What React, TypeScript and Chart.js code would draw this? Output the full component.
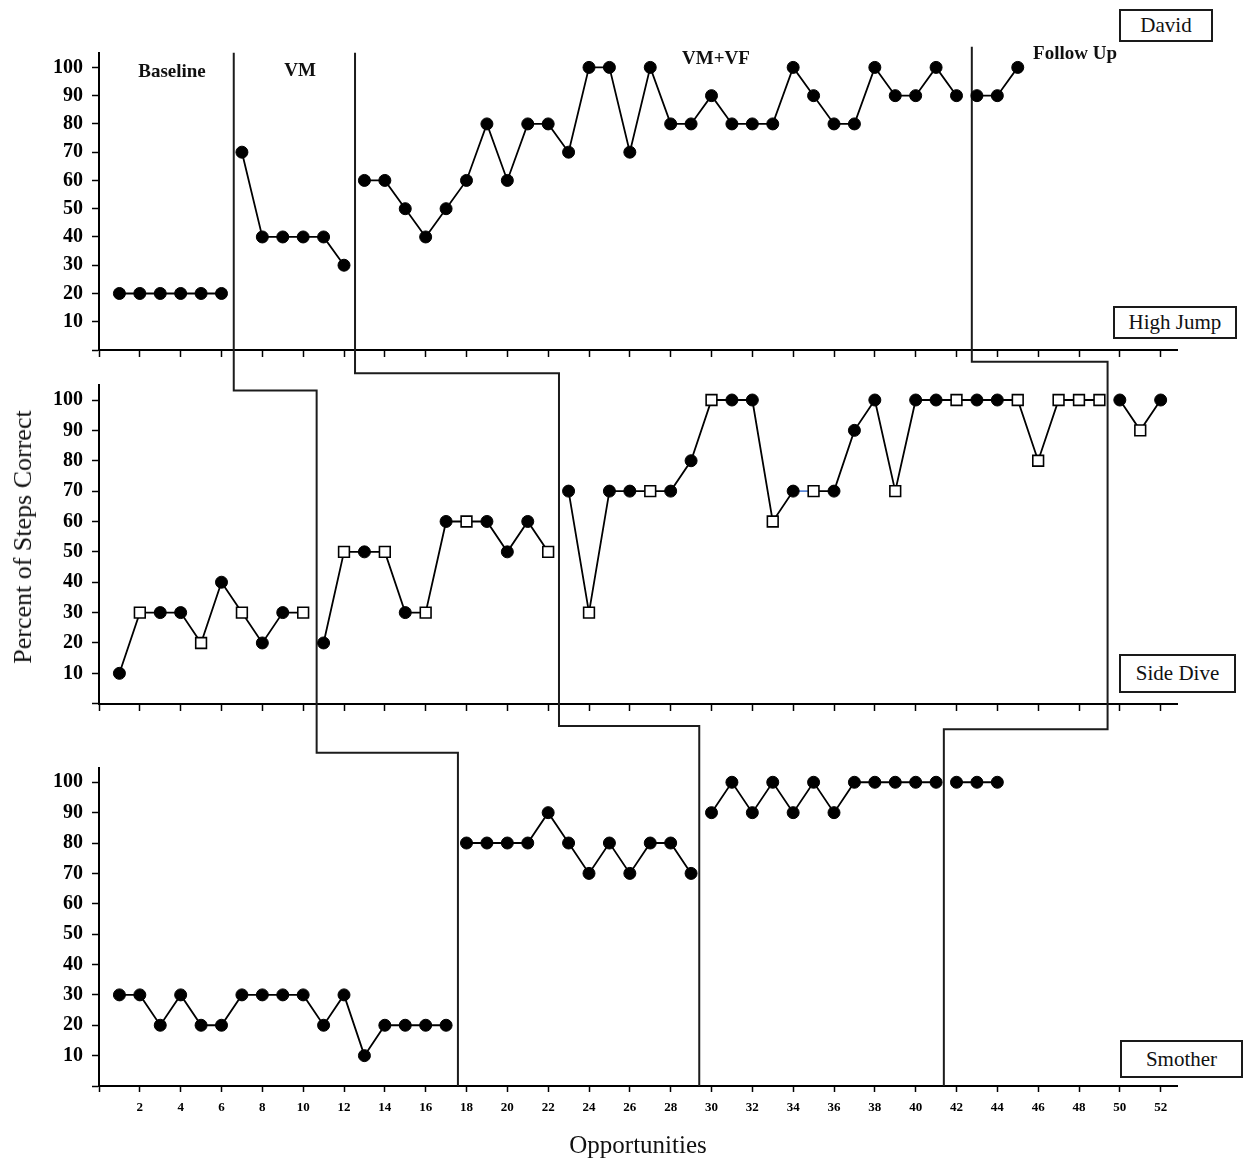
import React, { useEffect, useRef } from 'react';
import { Chart, registerables } from 'chart.js';

Chart.register(...registerables);

// ---------------- data ----------------
// David - High Jump (opportunities 1..45)
const highJump = [
  20, 20, 20, 20, 20, 20,
  70, 40, 40, 40, 40, 30,
  60, 60, 50, 40, 50, 60, 80, 60, 80, 80, 70, 100, 100, 70, 100, 80, 80, 90, 80, 80, 80, 100, 90, 80, 80, 100, 90, 90, 100, 90,
  90, 90, 100,
];
const highJumpPhaseEnds = [6, 12, 42];

// Side Dive (opportunities 1..52)
const sideDive = [
  10, 30, 30, 30, 20, 40, 30, 20, 30, 30,
  20, 50, 50, 50, 30, 30, 60, 60, 60, 50, 60, 50,
  70, 30, 70, 70, 70, 70, 80, 100, 100, 100, 60, 70, 70, 70, 90, 100, 70, 100, 100, 100, 100, 100, 100, 80, 100, 100, 100,
  100, 90, 100,
];
const sideDivePhaseEnds = [10, 22, 49];
const sideDiveOpenSquares = [2, 5, 7, 10, 12, 14, 16, 18, 22, 24, 27, 30, 33, 35, 39, 42, 45, 46, 47, 48, 49, 51];

// Smother (opportunities 1..44)
const smother = [
  30, 30, 20, 30, 20, 20, 30, 30, 30, 30, 20, 30, 10, 20, 20, 20, 20,
  80, 80, 80, 80, 90, 80, 70, 80, 70, 80, 80, 70,
  90, 100, 90, 100, 90, 100, 90, 100, 100, 100, 100, 100,
  100, 100, 100,
];
const smotherPhaseEnds = [17, 29, 41];

// phase-change lines (x in opportunities) for each panel
const phaseChangeTop = [6.6, 12.54, 42.75];
const phaseChangeMid = [10.66, 22.53, 49.4];
const phaseChangeBot = [17.58, 29.4, 41.38];
// vertical levels of the stepped connectors (in each panel's percent scale)
const phaseLineStartTop = [105.2, 105.2, 107.3];
const phaseStepMid = [103.1, 108.8, 112.6];
const phaseStepBot = [109.75, 118.5, 117.45];

const X_MAX = 52.8;

// ---------------- layout / style ----------------
const SERIF = "'Liberation Serif', 'Times New Roman', serif";

const phaseLabels = [
  { text: 'Baseline', x: 172, y: 70 },
  { text: 'VM', x: 300, y: 69 },
  { text: 'VM+VF', x: 716, y: 57 },
  { text: 'Follow Up', x: 1075, y: 52 },
];

const boxLabels = [
  { text: 'David', left: 1119, top: 9, w: 94, h: 33 },
  { text: 'High Jump', left: 1113, top: 306, w: 124, h: 33 },
  { text: 'Side Dive', left: 1119, top: 654, w: 117, h: 39 },
  { text: 'Smother', left: 1120, top: 1040, w: 123, h: 38 },
];

function toPoints(values: number[], phaseEnds: number[]) {
  const pts: { x: number; y: number | null }[] = [];
  values.forEach((v, i) => {
    const x = i + 1;
    pts.push({ x, y: v });
    if (phaseEnds.includes(x)) pts.push({ x: x + 0.5, y: null });
  });
  return pts;
}

const phaseLinePlugin = {
  id: 'phaseLines',
  beforeDatasetsDraw(chart: any) {
    const { ctx, scales } = chart;
    const x = scales.x;
    const yT = scales.yTop;
    const yM = scales.yMid;
    const yB = scales.yBot;
    ctx.save();
    ctx.strokeStyle = '#1c1c1c';
    ctx.lineWidth = 2;
    ctx.lineJoin = 'miter';
    ctx.lineCap = 'butt';
    phaseChangeTop.forEach((xt, i) => {
      const xm = phaseChangeMid[i];
      const xb = phaseChangeBot[i];
      ctx.beginPath();
      ctx.moveTo(x.getPixelForValue(xt), yT.getPixelForValue(phaseLineStartTop[i]));
      ctx.lineTo(x.getPixelForValue(xt), yM.getPixelForValue(phaseStepMid[i]));
      ctx.lineTo(x.getPixelForValue(xm), yM.getPixelForValue(phaseStepMid[i]));
      ctx.lineTo(x.getPixelForValue(xm), yB.getPixelForValue(phaseStepBot[i]));
      ctx.lineTo(x.getPixelForValue(xb), yB.getPixelForValue(phaseStepBot[i]));
      ctx.lineTo(x.getPixelForValue(xb), yB.getPixelForValue(0));
      ctx.stroke();
    });
    ctx.restore();
  },
};

function yScale(max: number, stackWeight: number, weight: number) {
  return {
    type: 'linear',
    axis: 'y',
    position: 'left',
    stack: 'panels',
    stackWeight,
    weight,
    min: 0,
    max,
    afterFit: (s: any) => {
      s.width = 99;
    },
    border: { display: true, color: '#000', width: 2 },
    grid: {
      display: true,
      drawOnChartArea: false,
      drawTicks: true,
      tickLength: 7,
      tickColor: '#000',
      tickWidth: 1.5,
      color: '#000',
    },
    ticks: {
      stepSize: 10,
      includeBounds: false,
      autoSkip: false,
      padding: 9,
      color: '#000',
      font: { family: SERIF, size: 20, weight: 'bold' },
      callback: (v: any) => (v === 0 ? '' : String(v)),
    },
  };
}

function gapScale(stackWeight: number, weight: number) {
  return {
    type: 'linear',
    axis: 'y',
    position: 'left',
    stack: 'panels',
    stackWeight,
    weight,
    min: 0,
    max: 1,
    afterFit: (s: any) => {
      s.width = 99;
    },
    border: { display: false },
    grid: { display: false },
    ticks: { display: false },
  };
}

function xPanelScale(yId: string) {
  return {
    type: 'linear',
    axis: 'x',
    position: { [yId]: 0 },
    min: 0,
    max: X_MAX,
    border: { display: true, color: '#000', width: 2 },
    grid: {
      display: true,
      drawOnChartArea: false,
      drawTicks: true,
      tickLength: 6,
      tickColor: '#000',
      tickWidth: 1.5,
      color: '#000',
    },
    ticks: { display: false, stepSize: 2, includeBounds: false, autoSkip: false },
  };
}

export default function App() {
  const canvasRef = useRef<HTMLCanvasElement | null>(null);

  useEffect(() => {
    const canvas = canvasRef.current;
    if (!canvas) return;

    const pointBase = {
      borderColor: '#000',
      borderWidth: 1.8,
      pointBorderColor: '#000',
      pointBackgroundColor: '#000',
      pointRadius: 6,
      pointBorderWidth: 1,
      pointHoverRadius: 6,
      spanGaps: false,
      tension: 0,
      fill: false,
      xAxisID: 'x',
    };

    const isSquare = (ctx: any) => !!ctx.raw && sideDiveOpenSquares.includes(ctx.raw.x);

    const chart = new Chart(canvas, {
      type: 'line',
      data: {
        datasets: [
          {
            ...pointBase,
            label: 'High Jump',
            yAxisID: 'yTop',
            data: toPoints(highJump, highJumpPhaseEnds),
          } as any,
          {
            ...pointBase,
            label: 'Side Dive',
            yAxisID: 'yMid',
            data: toPoints(sideDive, sideDivePhaseEnds),
            pointStyle: (ctx: any) => (isSquare(ctx) ? 'rect' : 'circle'),
            pointRadius: (ctx: any) => (isSquare(ctx) ? 7.6 : 6),
            pointBackgroundColor: (ctx: any) => (isSquare(ctx) ? '#fff' : '#000'),
            pointBorderWidth: (ctx: any) => (isSquare(ctx) ? 1.6 : 1),
            segment: {
              borderColor: (ctx: any) => (ctx.p0.parsed.x === 34 ? '#5a86d6' : '#000'),
            },
          } as any,
          {
            ...pointBase,
            label: 'Smother',
            yAxisID: 'yBot',
            data: toPoints(smother, smotherPhaseEnds),
          } as any,
        ],
      },
      options: {
        animation: false,
        responsive: false,
        maintainAspectRatio: false,
        devicePixelRatio: 1,
        layout: { padding: { top: 52.7, right: 67, bottom: 0, left: 0 } },
        plugins: {
          legend: { display: false },
          tooltip: { enabled: false },
        },
        events: [],
        scales: {
          yTop: yScale(105.2, 297.3, 5),
          gapTop: gapScale(35, 4),
          yMid: yScale(104.94, 318.7, 3),
          gapBot: gapScale(64.6, 2),
          yBot: yScale(104.6, 317.7, 1),
          x: {
            type: 'linear',
            axis: 'x',
            position: 'bottom',
            min: 0,
            max: X_MAX,
            afterFit: (s: any) => {
              s.height = 76;
            },
            border: { display: true, color: '#000', width: 2 },
            grid: {
              display: true,
              drawOnChartArea: false,
              drawTicks: true,
              tickLength: 6,
              tickColor: '#000',
              tickWidth: 1.5,
              color: '#000',
            },
            ticks: {
              stepSize: 2,
              includeBounds: false,
              autoSkip: false,
              maxRotation: 0,
              padding: 8,
              color: '#000',
              font: { family: SERIF, size: 13, weight: 'bold' },
              callback: (v: any) => (v === 0 ? '' : String(v)),
            },
            title: {
              display: true,
              text: 'Opportunities',
              color: '#111',
              font: { family: SERIF, size: 25, lineHeight: 1 },
              padding: { top: 0, bottom: 3.5 },
            },
          },
          xTop: xPanelScale('yTop'),
          xMid: xPanelScale('yMid'),
        } as any,
      },
      plugins: [phaseLinePlugin],
    });

    return () => {
      chart.destroy();
    };
  }, []);

  return (
    <div
      style={{
        position: 'absolute',
        left: 0,
        top: 0,
        width: 1244,
        height: 1162,
        background: '#fff',
        overflow: 'hidden',
      }}
    >
      <canvas
        ref={canvasRef}
        width={1244}
        height={1162}
        style={{ position: 'absolute', left: 0, top: 0, width: 1244, height: 1162, display: 'block' }}
      />
      {phaseLabels.map((p) => (
        <div
          key={p.text}
          style={{
            position: 'absolute',
            left: p.x,
            top: p.y,
            transform: 'translate(-50%, -50%)',
            fontFamily: SERIF,
            fontWeight: 'bold',
            fontSize: 19,
            lineHeight: 1,
            whiteSpace: 'nowrap',
            color: '#111',
          }}
        >
          {p.text}
        </div>
      ))}
      {boxLabels.map((b) => (
        <div
          key={b.text}
          style={{
            position: 'absolute',
            left: b.left,
            top: b.top,
            width: b.w,
            height: b.h,
            boxSizing: 'border-box',
            border: '2px solid #1a1a1a',
            background: '#fff',
            display: 'flex',
            alignItems: 'center',
            justifyContent: 'center',
            fontFamily: SERIF,
            fontSize: 21,
            lineHeight: 1,
            whiteSpace: 'nowrap',
            color: '#111',
          }}
        >
          {b.text}
        </div>
      ))}
      <div
        style={{
          position: 'absolute',
          left: 23,
          top: 536.5,
          transform: 'translate(-50%, -50%) rotate(-90deg)',
          fontFamily: SERIF,
          fontSize: 26,
          lineHeight: 1,
          whiteSpace: 'nowrap',
          color: '#111',
        }}
      >
        Percent of Steps Correct
      </div>
    </div>
  );
}
